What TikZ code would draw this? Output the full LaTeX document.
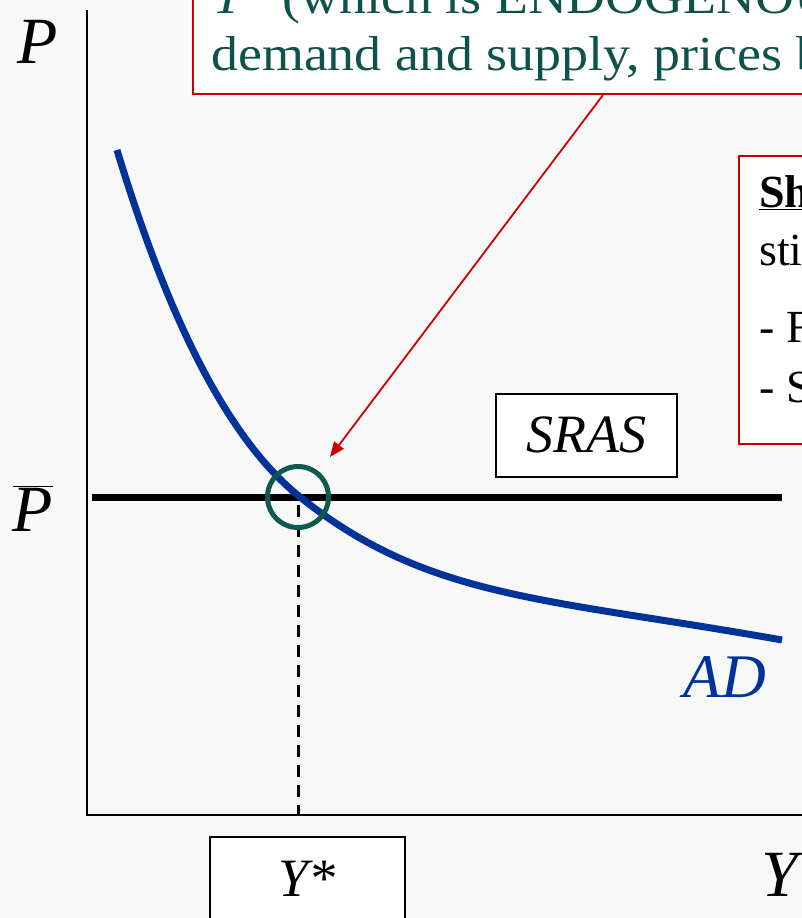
\documentclass[tikz,border=0pt]{standalone}
\usepackage{fontspec}
\setmainfont{Liberation Serif}
\newfontfamily\boxfont[FakeStretch=1.1]{Liberation Serif}
\usetikzlibrary{arrows.meta}
\definecolor{bg}{HTML}{F8F8F8}
\definecolor{boxred}{HTML}{CC0000}
\definecolor{tealtxt}{HTML}{0F5249}
\definecolor{adblue}{HTML}{003399}
\definecolor{circcol}{HTML}{0D5A4E}
\tikzset{
  redbox/.style={draw=boxred, line width=2pt, fill=white, inner sep=0pt},
  blackbox/.style={draw=black, line width=1.6pt, fill=white, inner sep=0pt},
  boxtext/.style={inner sep=0pt, anchor=base west, font=\boxfont\fontsize{49}{55}\selectfont},
  sidetext/.style={inner sep=0pt, anchor=base west, font=\fontsize{46}{55}\selectfont},
  axislbl/.style={inner sep=0pt, font=\fontsize{66}{70}\selectfont\itshape},
}
\begin{document}
\begin{tikzpicture}[x=1pt,y=-1pt]
\useasboundingbox (0,0) rectangle (802,918);
\clip (0,0) rectangle (802,918);
\fill[bg] (0,0) rectangle (802,918);
% axes
\draw[line width=2pt] (87,10) -- (87,815) -- (810,815);
% top red box
\node[redbox, minimum width=700pt, minimum height=135pt, anchor=south west] (topbox) at (192,95) {};
\node[boxtext, text=tealtxt] (t1) at (212,13) {\textit{Y*} (which is ENDOGENOUS in this model of};
\node[boxtext, text=tealtxt] (t2) at (211,70) {demand and supply, prices below};
% right red box
\node[redbox, minimum width=200pt, minimum height=288pt, anchor=north west] (rbox) at (738,155) {};
\node[sidetext] (r1) at (759,207) {\textbf{\underline{Short run}}};
\node[sidetext] (r2) at (759,265) {sticky prices};
\node[sidetext] (r3) at (759,342) {- Firms};
\node[sidetext] (r4) at (759,402) {- Sellers};
% SRAS box
\node[blackbox, minimum width=181pt, minimum height=83pt, anchor=north west] (srasbox) at (495,393) {};
\node[inner sep=0pt, font=\fontsize{54}{60}\selectfont\itshape] (sras) at (586,435) {SRAS};
% SRAS line
\draw[line width=7pt] (92,497) -- (782,497);
% AD curve
\coordinate (adtop) at (117,150);
\coordinate (admid) at (300,497);
\coordinate (adend) at (782,640);
\draw[adblue, line width=7pt] (adtop) .. controls (167.5,316.6) and (226.8,438.4) .. (admid)
  .. controls (427.8,599.2) and (544.9,597.8) .. (adend);
% equilibrium
\coordinate (eq) at (298,497);
\coordinate (ybase) at (298,815);
\draw[line width=3pt, dash pattern=on 12pt off 8pt] (eq) ++(0,8) -- (ybase);
\node[draw=circcol, line width=5pt, circle, minimum size=61pt, inner sep=0pt] (circ) at (eq) {};
% arrow
\coordinate (astart) at (603,95);
\coordinate (atip) at (330,457);
\draw[boxred, line width=1.8pt, -{Triangle[length=15pt,width=12pt]}] (astart) -- (atip);
% labels
\node[axislbl, anchor=base] (plbl) at (38,63) {P};
\node[axislbl, anchor=base] (pbar) at (33,531) {$\overline{\mathit{P}}$};
\node[axislbl, anchor=base, text=adblue, font=\fontsize{62}{66}\selectfont\itshape] (ad) at (725,697) {AD};
\node[axislbl, anchor=base] (ylbl) at (780,896) {Y};
\node[blackbox, minimum width=195pt, minimum height=120pt, anchor=north west] (ystarbox) at (209,836) {};
\node[inner sep=0pt, anchor=base, font=\fontsize{54}{60}\selectfont\itshape] (ystar) at (307,896) {Y*};
\end{tikzpicture}
\end{document}
